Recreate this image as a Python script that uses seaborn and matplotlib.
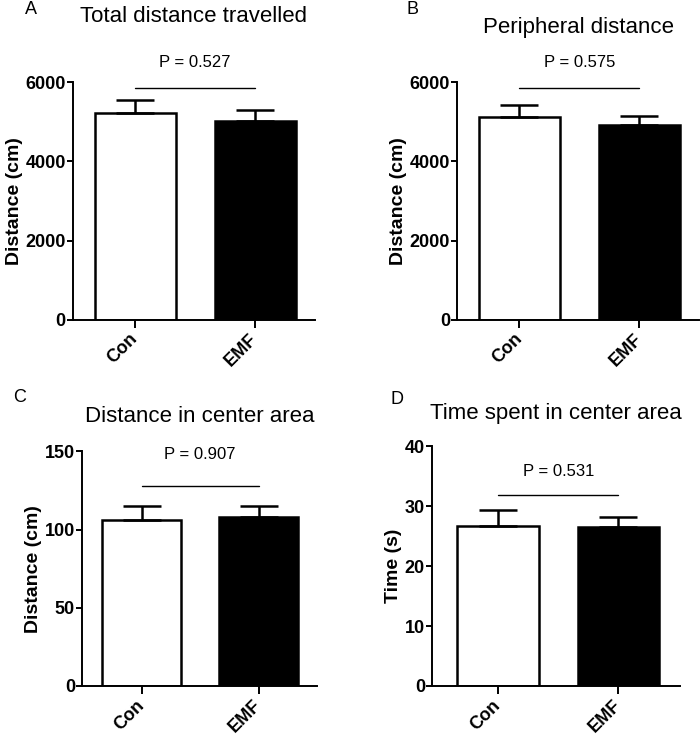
import matplotlib
matplotlib.use("Agg")
import matplotlib.pyplot as plt
import seaborn as sns
import numpy as np

sns.set_style("ticks")
plt.rcParams['font.family'] = ['Liberation Sans', 'DejaVu Sans']
plt.rcParams['text.color'] = 'black'
plt.rcParams['axes.labelcolor'] = 'black'
plt.rcParams['xtick.color'] = 'black'
plt.rcParams['ytick.color'] = 'black'
plt.rcParams['axes.edgecolor'] = 'black'

groups = ["Con", "EMF"]
bar_colors = ["white", "black"]

panel_letters = ["A", "B", "C", "D"]
titles = ["Total distance travelled", "Peripheral distance",
          "Distance in center area", "Time spent in center area"]
ylabels = ["Distance (cm)", "Distance (cm)", "Distance (cm)", "Time (s)"]

# means and upper error (SEM)
total_mean = [5230, 5020]
total_err = [320, 270]
periph_mean = [5130, 4910]
periph_err = [290, 240]
center_dist_mean = [106, 108]
center_dist_err = [9, 7]
center_time_mean = [26.7, 26.5]
center_time_err = [2.7, 1.7]

p_values = ["P = 0.527", "P = 0.575", "P = 0.907", "P = 0.531"]
sig_line_y = [5860, 5860, 128, 31.8]
p_text_y = [6500, 6500, 148, 35.7]

yticks_list = [[0, 2000, 4000, 6000], [0, 2000, 4000, 6000],
               [0, 50, 100, 150], [0, 10, 20, 30, 40]]

means = [total_mean, periph_mean, center_dist_mean, center_time_mean]
errs = [total_err, periph_err, center_dist_err, center_time_err]

# axes rectangles [left, bottom, width, height] in figure fraction
rects = [[0.104, 0.568, 0.346, 0.321],
         [0.653, 0.568, 0.346, 0.321],
         [0.117, 0.073, 0.336, 0.317],
         [0.617, 0.073, 0.354, 0.324]]
xlims = [(-0.52, 1.5), (-0.52, 1.5), (-0.51, 1.5), (-0.55, 1.51)]

fig = plt.figure(figsize=(7, 7.4), dpi=100)

for i in range(4):
    ax = fig.add_axes(rects[i])
    sns.barplot(x=groups, y=means[i], hue=groups, palette=bar_colors,
                edgecolor="black", linewidth=1.8, width=0.675,
                legend=False, errorbar=None, ax=ax)
    ax.errorbar([0, 1], means[i], yerr=[[0, 0], errs[i]], fmt="none",
                ecolor="black", elinewidth=1.8, capsize=14, capthick=1.8,
                zorder=1)
    ax.set_xlim(*xlims[i])
    ax.set_ylim(0, yticks_list[i][-1])
    ax.set_yticks(yticks_list[i])
    ax.set_yticklabels([str(t) for t in yticks_list[i]],
                       fontsize=13, fontweight="bold")
    ax.set_xticks([0, 1])
    ax.set_xticklabels(groups, fontsize=13, fontweight="bold",
                       rotation=45, ha="right", va="center",
                       rotation_mode="anchor")
    ax.set_ylabel(ylabels[i], fontsize=14, fontweight="bold", labelpad=2)
    ax.set_xlabel("")
    for s in ["top", "right"]:
        ax.spines[s].set_visible(False)
    for s in ["left", "bottom"]:
        ax.spines[s].set_linewidth(1.4)
    ax.tick_params(axis="y", length=4, width=1.4, pad=1)
    ax.tick_params(axis="x", length=6, width=1.4, pad=6)

    # significance line and p value
    ax.plot([0, 1], [sig_line_y[i]] * 2, color="black", lw=1, clip_on=False)
    ax.text(0.5, p_text_y[i], p_values[i], ha="center", va="center",
            fontsize=12, clip_on=False)

# titles and letters placed in figure pixels
title_y = [17, 27, 417, 413]
letter_xy = [(31, 10), (413, 10), (20, 398), (397, 399)]
for i, ax in enumerate(fig.axes):
    bb = rects[i]
    cx = (bb[0] + bb[2] / 2)
    fig.text(cx, 1 - title_y[i] / 740, titles[i], ha="center", va="center",
             fontsize=16)
    fig.text(letter_xy[i][0] / 700, 1 - letter_xy[i][1] / 740,
             panel_letters[i], ha="center", va="center", fontsize=13)

fig.savefig("out.png", dpi=100)
